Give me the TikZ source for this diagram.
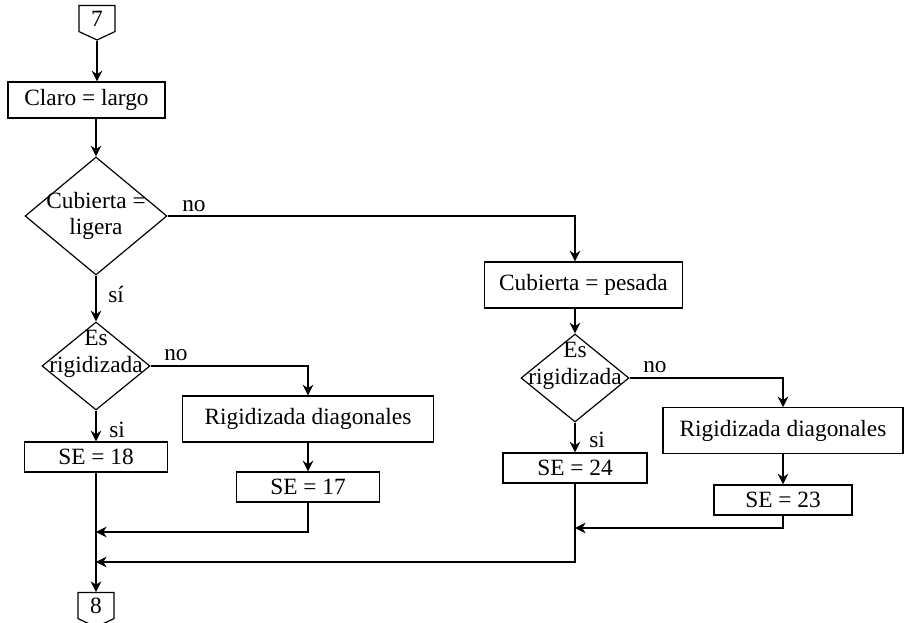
\documentclass[tikz,border=0pt]{standalone}
\usepackage{fontspec}
\setmainfont{Liberation Serif}
\usetikzlibrary{positioning,arrows.meta,shapes.geometric,shapes.symbols}

\begin{document}
\begin{tikzpicture}[x=0.75pt,y=-0.75pt,
  font=\fontsize{17.5pt}{20pt}\selectfont,
  proc/.style={rectangle,draw,line width=0.9pt,minimum width=107pt,minimum height=22.5pt,inner sep=0pt},
  dec/.style={diamond,draw,line width=0.9pt,inner sep=0pt,minimum width=81pt,minimum height=66pt},
  conn/.style={signal,signal to=south,signal from=nowhere,signal pointer angle=130,
    draw,line width=0.9pt,minimum width=27pt,minimum height=22pt,inner sep=1pt},
  flow/.style={line width=0.8pt,-{Stealth[length=8pt,width=8pt]}},
  lbl/.style={inner sep=0pt}]
  \useasboundingbox (0,0) rectangle (904,623);
  % left column
  \node[conn,anchor=north] (c7) at (97,5) {7};
  \node[proc,minimum width=117.75pt,minimum height=27pt] (claro) at (86.5,100) {Claro = largo};
  \node[dec,minimum width=106.5pt,minimum height=88.5pt,
    label={[align=center]center:Cubierta =\\ligera}] (d1) at (96,216) {};
  \node[dec,label={[align=center,yshift=9pt]center:Es\\rigidizada}] (d2) at (96,366) {};
  \node[proc] (se18) at (96,457) {SE = 18};
  \node[proc,minimum width=188pt,minimum height=34.5pt] (rig1) at (308,419) {Rigidizada diagonales};
  \node[proc] (se17) at (308,487) {SE = 17};
  \node[conn,anchor=north] (c8) at (96,592) {8};
  % right column
  \node[proc,minimum width=148pt,minimum height=34.5pt] (pesada) at (583.5,285) {Cubierta = pesada};
  \node[dec,label={[align=center,yshift=9pt]center:Es\\rigidizada}] (d3) at (575,378) {};
  \node[proc,minimum width=108pt] (se24) at (575,468) {SE = 24};
  \node[proc,minimum width=180pt,minimum height=34pt] (rig2) at (783,430.5) {Rigidizada diagonales};
  \node[proc,minimum width=103.5pt] (se23) at (783,500) {SE = 23};
  % labels
  \node[lbl,anchor=base west] (no1) at (182,212) {no};
  \node[lbl,anchor=base west] (si1) at (108,303) {sí};
  \node[lbl,anchor=base west] (no2) at (164,361) {no};
  \node[lbl,anchor=base west] (si2) at (109,438) {si};
  \node[lbl,anchor=base west] (no3) at (643,373) {no};
  \node[lbl,anchor=base west] (si3) at (589,448) {si};
  % joins
  \coordinate (j17) at (96,532);
  \coordinate (j24) at (96,562);
  \coordinate (j23) at (575,528);
  % connectors
  \draw[flow] (c7.south) -- (c7 |- claro.north);
  \draw[flow] (claro.south -| d1.north) -- (d1.north);
  \draw[flow] (d1.east) -| (d3.north |- pesada.north);
  \draw[flow] (d1.south) -- (d2.north);
  \draw[flow] (d2.east) -| (rig1.north);
  \draw[flow] (d2.south) -- (d2 |- se18.north);
  \draw[flow] (rig1.south) -- (se17.north);
  \draw[flow] (pesada.south -| d3) -- (d3.north);
  \draw[flow] (d3.east) -| (rig2.north);
  \draw[flow] (d3.south) -- (d3 |- se24.north);
  \draw[flow] (rig2.south) -- (se23.north);
  \draw[flow] (se17.south) |- (j17);
  \draw[flow] (se23.south) |- (j23);
  \draw[flow] (se24.south) |- (j24);
  \draw[flow] (se18.south) -- (c8.north);
\end{tikzpicture}
\end{document}
